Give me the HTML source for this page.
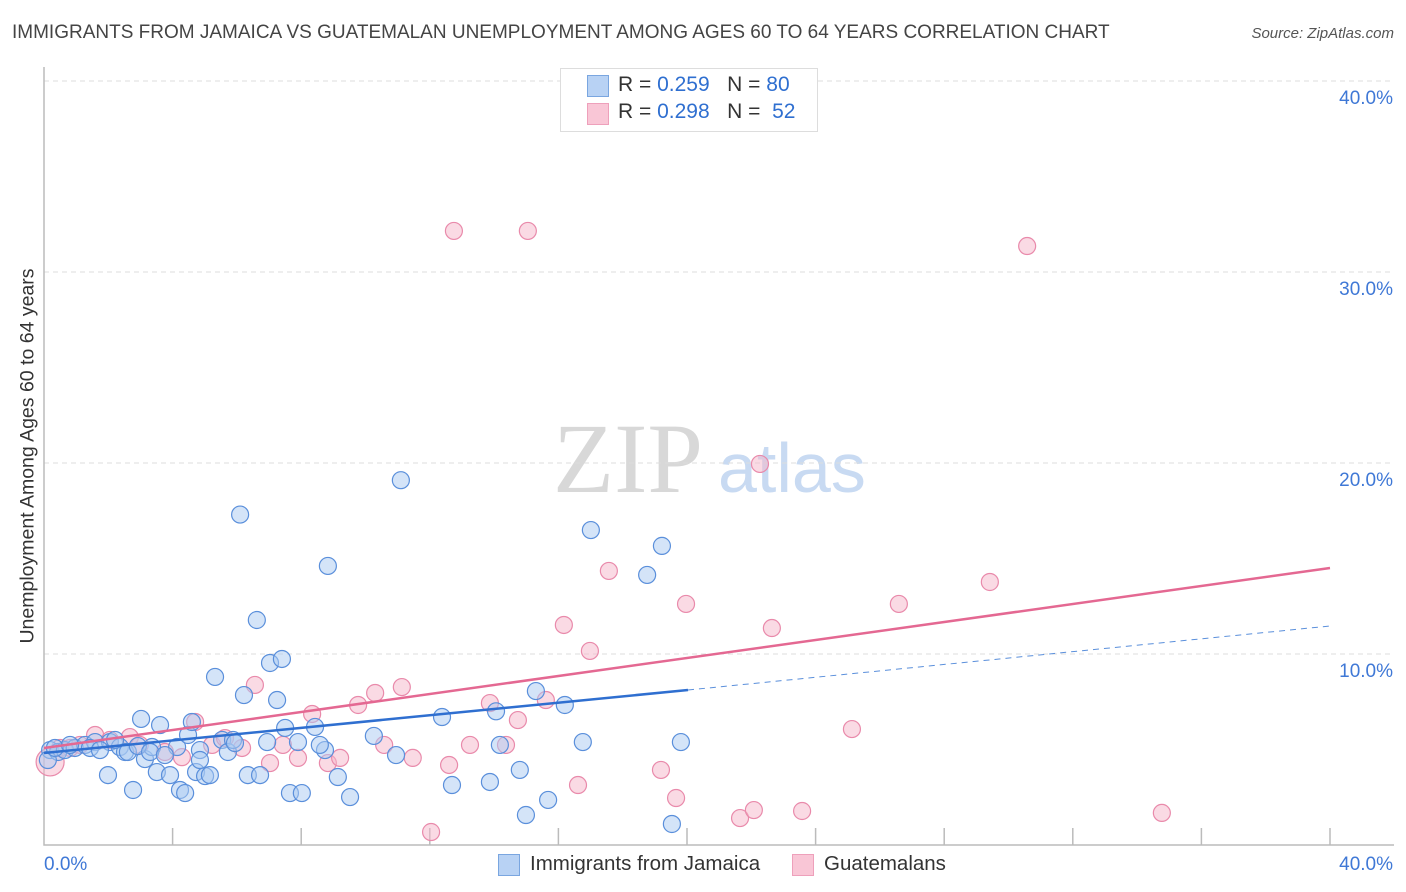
<!DOCTYPE html>
<html><head><meta charset="utf-8"><style>
body{margin:0;background:#fff;font-family:"Liberation Sans",sans-serif;}
.t{position:absolute;white-space:nowrap}
</style></head><body>
<div style="position:relative;width:1406px;height:892px;overflow:hidden">
<div class="t" style="left:12px;top:22px;font-size:19px;color:#444">IMMIGRANTS FROM JAMAICA VS GUATEMALAN UNEMPLOYMENT AMONG AGES 60 TO 64 YEARS CORRELATION CHART</div>
<div class="t" style="right:12px;top:25px;font-size:15px;color:#555;font-style:italic">Source: ZipAtlas.com</div>
<svg id="svg" width="1406" height="892" style="position:absolute;left:0;top:0">
<text x="553" y="492" font-family="Liberation Serif,serif" font-size="100" fill="#d8d8d8">ZIP</text>
<text x="718" y="492" font-family="Liberation Sans,sans-serif" font-size="70" fill="#c8daf2">atlas</text>
</svg>
<div class="t" style="left:28px;top:456px;font-size:19.5px;color:#333;transform:translate(-50%,-50%) rotate(-90deg)">Unemployment Among Ages 60 to 64 years</div>
<div style="position:absolute;left:560px;top:68px;width:256px;height:62px;border:1px solid #ddd;background:#fff"></div>
<div style="position:absolute;left:587px;top:75px;width:20px;height:20px;background:#b8d2f4;border:1px solid #7aa6e0"></div>
<div style="position:absolute;left:587px;top:103px;width:20px;height:20px;background:#f9c6d6;border:1px solid #eea0bb"></div>
<div class="t" style="left:618px;top:73px;font-size:21px;color:#333">R = <span style="color:#2f6fd0">0.259</span>&nbsp;&nbsp;&nbsp;N = <span style="color:#2f6fd0">80</span></div>
<div class="t" style="left:618px;top:100px;font-size:21px;color:#333">R = <span style="color:#2f6fd0">0.298</span>&nbsp;&nbsp;&nbsp;N = <span style="color:#2f6fd0">&nbsp;52</span></div>
<div style="position:absolute;left:498px;top:854px;width:20px;height:20px;background:#b8d2f4;border:1px solid #7aa6e0"></div>
<div class="t" style="left:530px;top:852px;font-size:20.5px;color:#333">Immigrants from Jamaica</div>
<div style="position:absolute;left:792px;top:854px;width:20px;height:20px;background:#f9c6d6;border:1px solid #eea0bb"></div>
<div class="t" style="left:824px;top:852px;font-size:20.5px;color:#333">Guatemalans</div>
</div>
<script>
const xTicks=[0,4,8,12,16,20,24,28,32,36,40];
const yTicks=[10,20,30,40];
const yTickLabels=["10.0%","20.0%","30.0%","40.0%"];
const jamX=[0.19,0.44,0.65,0.96,1.28,1.59,1.99,2.05,2.36,2.52,2.77,3.02,3.14,3.36,3.51,3.61,3.92,4.14,4.23,4.39,4.48,4.6,4.73,5.01,5.16,5.32,5.54,5.72,5.88,6.1,6.22,6.34,6.62,6.72,6.94,7.03,7.25,7.4,7.5,7.65,7.9,8.02,8.43,8.74,8.83,9.14,9.52,10.26,10.95,11.1,12.38,12.69,13.87,14.06,14.18,14.8,14.99,15.3,15.68,16.2,16.76,17.01,18.76,19.22,19.53,19.81,0.12,0.34,0.81,1.43,1.74,2.21,2.61,2.92,3.3,3.76,4.85,5.94,8.58,4.85];
const jamY=[4.97,4.87,4.97,5.08,5.24,5.39,3.66,5.39,5.13,4.87,2.88,6.6,4.5,5.13,3.82,6.28,3.66,5.13,2.88,2.72,5.76,6.44,3.82,3.61,3.66,8.8,5.5,4.87,5.5,17.3,7.85,3.66,11.78,3.66,5.39,9.53,7.59,9.74,6.13,2.72,5.39,2.72,6.18,4.97,14.61,3.56,2.51,5.71,4.71,19.1,6.7,3.14,3.3,7.0,5.24,3.93,1.57,8.06,2.36,7.33,5.39,16.49,14.14,15.66,1.1,5.39,4.45,5.08,5.24,5.08,4.97,5.5,4.87,5.18,4.87,4.71,4.97,5.34,5.24,4.45];
const guaX=[0.19,0.5,0.81,1.12,1.59,2.05,2.67,2.98,3.76,4.29,4.7,5.23,5.63,6.16,6.56,7.03,7.43,7.9,8.34,8.83,9.21,9.77,10.3,10.58,11.13,11.47,12.04,12.6,12.75,13.25,13.87,14.37,14.74,15.05,15.61,16.17,16.61,16.98,17.57,19.19,19.66,19.97,21.65,22.08,22.27,22.64,23.58,25.13,26.59,29.42,30.58,34.77];
const guaY=[4.35,5.08,5.08,5.24,5.76,5.5,5.65,5.24,4.87,4.6,6.44,5.24,5.6,5.08,8.38,4.29,5.24,4.56,6.86,4.29,4.56,7.33,7.96,5.24,8.27,4.56,0.68,4.19,32.15,5.24,7.43,5.24,6.54,32.15,7.59,11.52,3.14,10.16,14.35,3.93,2.46,12.62,1.41,1.83,19.95,11.36,1.78,6.07,12.62,13.77,31.36,1.68];
const X=v=>44+v*32.15, Y=v=>845-v*19.1;
const ns="http://www.w3.org/2000/svg", svg=document.getElementById('svg');
function mk(tag,attrs){const e=document.createElementNS(ns,tag);for(const k in attrs)e.setAttribute(k,attrs[k]);svg.appendChild(e);return e;}
yTicks.forEach((t,i)=>{
 const g=mk('line',{x1:44,x2:1394,y1:Y(t),y2:Y(t),stroke:'#ddd','stroke-dasharray':'5,4'});
 
 
 const tx=mk('text',{x:1393,y:Y(t)+23,'text-anchor':'end','font-size':19,fill:'#3f78d6'});
 tx.textContent=yTickLabels[i];
 
 
});
const ax=mk('path',{d:'M44 67V845H1394',stroke:'#bbb',fill:'none','stroke-width':1.5});


xTicks.slice(1).forEach(t=>{
 const l=mk('line',{x1:X(t),x2:X(t),y1:828,y2:845,stroke:'#bbb','stroke-width':1.5});
 
 
});
const xl0=mk('text',{x:44,y:870,'font-size':19,fill:'#3f78d6'});xl0.textContent='0.0%';


const xl1=mk('text',{x:1393,y:870,'font-size':19,fill:'#3f78d6','text-anchor':'end'});xl1.textContent='40.0%';


function dots(xs,ys,fill,stroke,name){xs.forEach((x,i)=>{
 const c=mk('circle',{cx:X(x),cy:Y(ys[i]),r:i===0&&name==='guatemalan-point'?14:8.5,fill:fill,'fill-opacity':0.5,stroke:stroke,'stroke-width':1.2});
 
 
});}
dots(guaX,guaY,'#f6b5ca','#e98aab','guatemalan-point');
dots(jamX,jamY,'#a9c9f2','#5a8fdb','jamaica-point');
const tj=mk('line',{x1:X(0),y1:753,x2:688,y2:690,stroke:'#2f6fd0','stroke-width':2.5});


const tjd=mk('line',{x1:688,y1:690,x2:1330,y2:626,stroke:'#5a8fdb','stroke-width':1,'stroke-dasharray':'6,5'});


const tg=mk('line',{x1:X(0),y1:748,x2:1330,y2:568,stroke:'#e46892','stroke-width':2.5});


</script>
</body></html>
